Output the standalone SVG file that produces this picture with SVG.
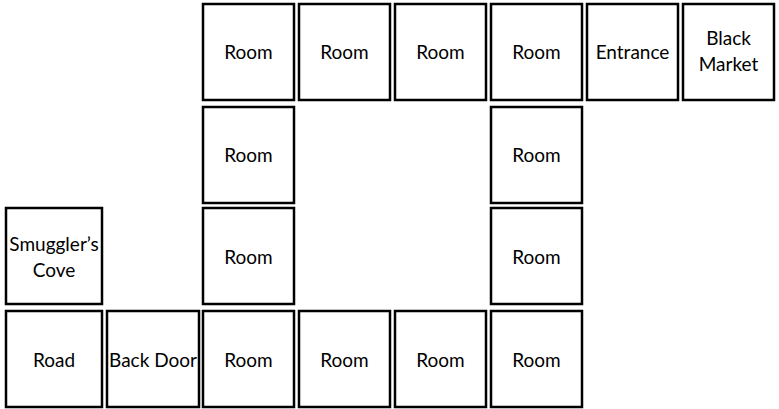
<svg xmlns="http://www.w3.org/2000/svg" width="779" height="409" viewBox="0 0 779 409">
<style>
rect{fill:#fff;stroke:#000;stroke-width:2.5}
text{font-family:Lato,"Open Sans","Liberation Sans",sans-serif;font-size:19px;fill:#000;text-anchor:middle;dominant-baseline:central}
</style>
<rect x="0" y="0" width="779" height="409" style="stroke:none"/>
<g id="r1c1"><rect x="203" y="4" width="91" height="96"/><text x="248.5" y="51">Room</text></g>
<g id="r1c2"><rect x="299" y="4" width="91" height="96"/><text x="344.5" y="51">Room</text></g>
<g id="r1c3"><rect x="395" y="4" width="91" height="96"/><text x="440.5" y="51">Room</text></g>
<g id="r1c4"><rect x="491" y="4" width="91" height="96"/><text x="536.5" y="51">Room</text></g>
<g id="entrance"><rect x="587" y="4" width="91" height="96"/><text x="632.5" y="51">Entrance</text></g>
<g id="blackmarket"><rect x="683" y="4" width="91" height="96"/><text x="728.5" y="37.5">Black</text><text x="728.5" y="63.5">Market</text></g>
<g id="r2c1"><rect x="203" y="107" width="91" height="96"/><text x="248.5" y="154">Room</text></g>
<g id="r2c4"><rect x="491" y="107" width="91" height="96"/><text x="536.5" y="154">Room</text></g>
<g id="smuggler"><rect x="6" y="208" width="96" height="96"/><text x="54" y="243">Smuggler’s</text><text x="54" y="269">Cove</text></g>
<g id="r3c1"><rect x="203" y="208" width="91" height="96"/><text x="248.5" y="256">Room</text></g>
<g id="r3c4"><rect x="491" y="208" width="91" height="96"/><text x="536.5" y="256">Room</text></g>
<g id="road"><rect x="6" y="311" width="96" height="96"/><text x="54" y="359">Road</text></g>
<g id="backdoor"><rect x="107" y="311" width="92" height="96"/><text x="153" y="359">Back Door</text></g>
<g id="r4c1"><rect x="203" y="311" width="91" height="96"/><text x="248.5" y="359">Room</text></g>
<g id="r4c2"><rect x="299" y="311" width="91" height="96"/><text x="344.5" y="359">Room</text></g>
<g id="r4c3"><rect x="395" y="311" width="91" height="96"/><text x="440.5" y="359">Room</text></g>
<g id="r4c4"><rect x="491" y="311" width="91" height="96"/><text x="536.5" y="359">Room</text></g>
<g id="connectors"/>
</svg>
